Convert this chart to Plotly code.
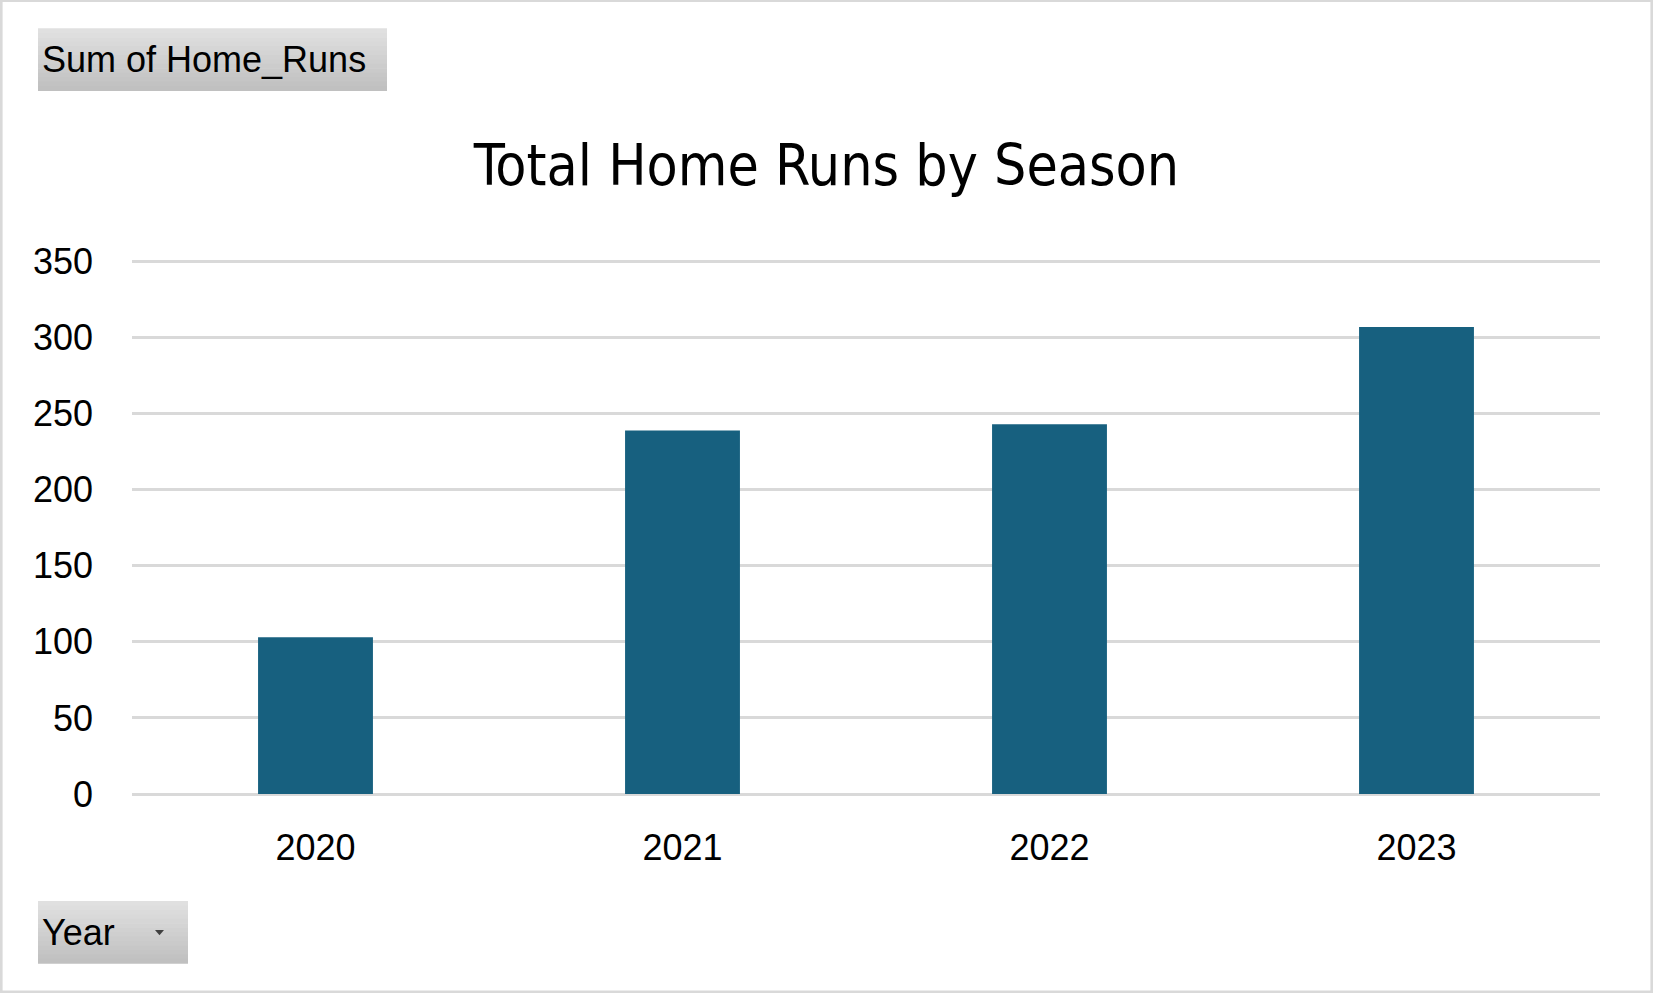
import plotly.graph_objects as go

# pivot chart: total home runs per season
years = ["2020", "2021", "2022", "2023"]
home_runs = [103, 239, 243, 307]
y_ticks = [0, 50, 100, 150, 200, 250, 300, 350]

W, H = 1653, 993
L, R, T, B = 132, 1600, 262, 794   # plot area in pixels (350 at T, 0 at B)
Y_TOP = 351                         # a bit above 350 so its gridline is drawn
T_PLOT = B - (B - T) * Y_TOP / 350


def px(x):
    return (x - L) / (R - L)


def py(y):
    return (B - y) / (B - T_PLOT)


fig = go.Figure()
fig.add_trace(go.Bar(x=years, y=home_runs, marker=dict(color="#17607f", line=dict(width=0)),
                     name="Sum of Home_Runs"))

shapes = []
# outer chart border
shapes.append(dict(type="rect", xref="paper", yref="paper",
                   x0=px(1.3), x1=px(W - 1.3), y0=py(1.3), y1=py(H - 1.3),
                   line=dict(color="#d9d9d9", width=2.6), fillcolor="rgba(0,0,0,0)", layer="below"))


def field_button(x0, x1, y0, y1, bands=14):
    # grey gradient field button, drawn as thin horizontal bands
    top, bot = 224, 192
    step = (y1 - y0) / bands
    for i in range(bands):
        g = round(top + (bot - top) * i / (bands - 1))
        shapes.append(dict(type="rect", xref="paper", yref="paper",
                           x0=px(x0), x1=px(x1), y0=py(y0 + i * step), y1=py(y0 + (i + 1) * step + 0.6),
                           line=dict(width=0), fillcolor=f"rgb({g},{g},{g})", layer="below"))


field_button(38, 387, 29, 91)
field_button(38, 188, 901, 963)

# dropdown arrow on the Year button
shapes.append(dict(type="path", xref="paper", yref="paper",
                   path=f"M {px(155)} {py(930)} L {px(164)} {py(930)} L {px(159.5)} {py(935)} Z",
                   fillcolor="#404040", line=dict(width=0)))

annotations = [
    dict(text="Sum of Home_Runs", xref="paper", yref="paper", x=px(40), y=py(60),
         xanchor="left", yanchor="middle", showarrow=False,
         font=dict(family="Liberation Sans, Arial", size=36, color="#000000")),
    dict(text="Year", xref="paper", yref="paper", x=px(40), y=py(932),
         xanchor="left", yanchor="middle", showarrow=False,
         font=dict(family="Liberation Sans, Arial", size=36, color="#000000")),
]

fig.update_layout(
    width=W, height=H,
    margin=dict(l=L, r=W - R, t=T_PLOT, b=H - B, pad=0),
    paper_bgcolor="white", plot_bgcolor="white",
    showlegend=False,
    bargap=0.687,
    title=dict(text="Total Home Runs by Season", x=0.5, xref="container", xanchor="center",
               y=1 - 165 / H, yref="container", yanchor="middle",
               font=dict(family="DejaVu Sans Condensed, Arial Narrow",
                         size=56.7, color="#000000")),
    shapes=shapes,
    annotations=annotations,
)

fig.update_yaxes(range=[0, Y_TOP], tickvals=y_ticks, showgrid=True, gridcolor="#d9d9d9", gridwidth=2.6,
                 zeroline=True, zerolinecolor="#d9d9d9", zerolinewidth=2.6, showline=False,
                 ticks="", ticklabelstandoff=38,
                 tickfont=dict(family="Liberation Sans, Arial", size=36, color="#000000"))
fig.update_xaxes(showgrid=False, showline=False, ticks="", ticklabelstandoff=29,
                 tickfont=dict(family="Liberation Sans, Arial", size=36, color="#000000"))

fig.write_html("out.html", config={"displayModeBar": False},
               post_script="document.body.style.margin='0';document.body.style.overflow='hidden';")
